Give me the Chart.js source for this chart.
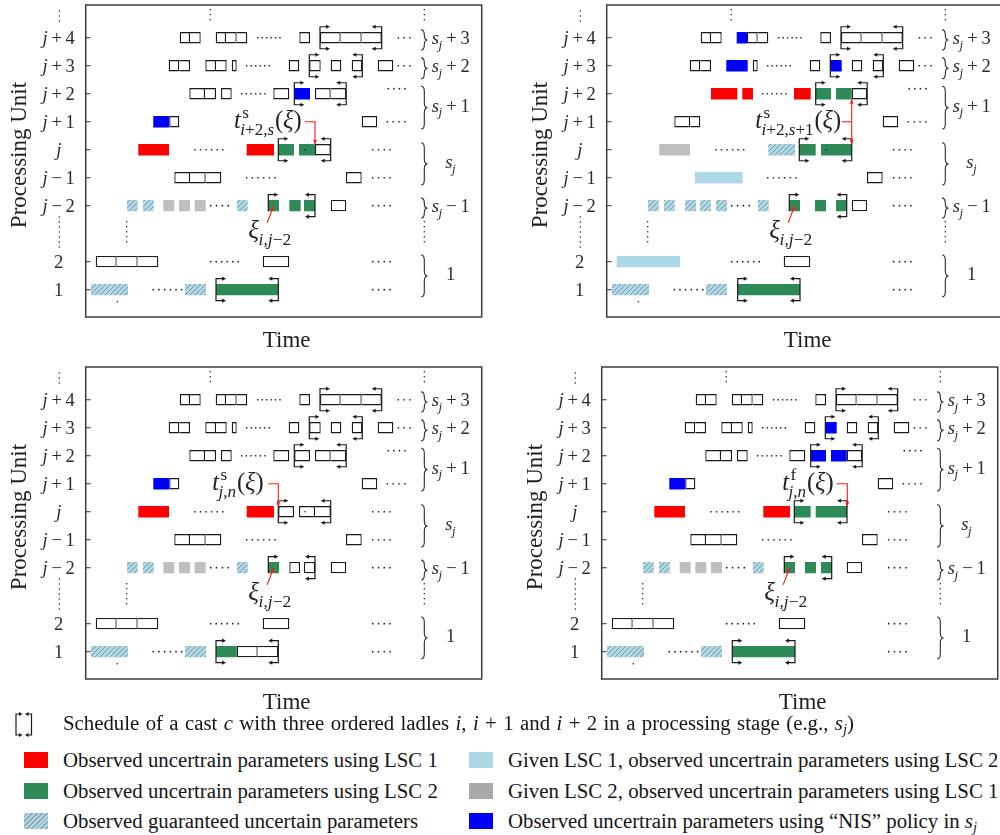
<!DOCTYPE html>
<html>
<head>
<meta charset="utf-8">
<script src="https://cdn.jsdelivr.net/npm/chart.js"></script>
<style>
  html, body { margin: 0; padding: 0; background: #fff; }
  body { width: 1000px; height: 835px; overflow: hidden; position: relative; }
  canvas { position: absolute; }
  .lg { position: absolute; font: 20.8px "Liberation Serif", "Times New Roman", serif; line-height: 24px; white-space: nowrap; color: #151515; }
  .lg i { font-style: italic; }
  .lg sub { font-size: 70%; vertical-align: -0.28em; line-height: 0; }
  .sw { position: absolute; width: 24px; height: 16px; }
</style>
</head>
<body>
<canvas id="pA" width="500" height="360" style="left:0;top:0"></canvas>
<canvas id="pB" width="520" height="360" style="left:500px;top:0"></canvas>
<canvas id="pC" width="500" height="360" style="left:0;top:362px"></canvas>
<canvas id="pD" width="500" height="360" style="left:500px;top:362px"></canvas>

<canvas id="castKey" width="30" height="34" style="left:8px;top:706px"></canvas>
<div class="lg" style="left:63px;top:711px;word-spacing:1.2px">Schedule of a cast <i>c</i> with three ordered ladles <i>i</i>, <i>i</i> + 1 and <i>i</i> + 2 in a processing stage (e.g., <i>s</i><sub><i>j</i></sub>)</div>

<div class="sw" style="left:24px;top:751.5px;background:#ff0000"></div>
<div class="lg" style="left:63px;top:747.5px">Observed uncertrain parameters using LSC 1</div>
<div class="sw" style="left:24px;top:782.5px;background:#2e8b57"></div>
<div class="lg" style="left:63px;top:778.5px">Observed uncertrain parameters using LSC 2</div>
<div class="sw" style="left:24px;top:813px;background:repeating-linear-gradient(135deg,#add8e6 0px,#add8e6 2.2px,#8fa3ad 2.2px,#8fa3ad 3.4px)"></div>
<div class="lg" style="left:63px;top:809px">Observed guaranteed uncertain parameters</div>

<div class="sw" style="left:469px;top:751.5px;background:#add8e6"></div>
<div class="lg" style="left:508px;top:747.5px">Given LSC 1, observed uncertrain parameters using LSC 2</div>
<div class="sw" style="left:469px;top:782.5px;background:#a9a9a9"></div>
<div class="lg" style="left:508px;top:778.5px">Given LSC 2, observed uncertrain parameters using LSC 1</div>
<div class="sw" style="left:469px;top:813px;background:#0000ff"></div>
<div class="lg" style="left:508px;top:809px">Observed uncertrain parameters using “NIS” policy in <i>s</i><sub><i>j</i></sub></div>

<script>
// ---- Processing units (row index 0 = unit 1 at the bottom; row 2 is the elided gap) ----
const unitLabels = ['1', '2', '', 'j−2', 'j−1', 'j', 'j+1', 'j+2', 'j+3', 'j+4'];

// ---- Stages grouping the units: [lowest row, highest row] covered by each brace ----
const stageSpans  = [[8.56, 9.28], [7.53, 8.28], [5.74, 7.27], [3.74, 5.25], [2.56, 3.27], [-0.26, 1.24]];
const stageLabels = ['s_j+3', 's_j+2', 's_j+1', 's_j', 's_j−1', '1'];

// ---- Ladle processing intervals common to all four schedules: [row, start, end] ----
const commonLadles = [
  [9, 94, 104.3], [9, 104.3, 115], [9, 140.3, 151], [9, 151, 161.6], [9, 213.6, 224.3], [9, 234.3, 255], [9, 255, 276], [9, 276, 296],
  [8, 83, 93.6], [8, 93.6, 104.3], [8, 146, 151], [8, 203, 213.6], [8, 245, 255.6], [8, 266, 276.6], [8, 292, 307.6],
  [7, 245, 260.5],
  [6, 83.6, 93.6], [6, 276, 291.5],
  [4, 260.3, 276],
  [3, 245, 260.5],
  [1, 177, 203.6]
];
const commonGuaranteed = [[3, 41.3, 52], [3, 57.3, 68], [3, 151.3, 162], [0, 5.3, 42.3], [0, 99.3, 120.3]];
const commonLsc2 = [[3, 182.6, 193.3]];

// ---- Elided parts of the schedule: horizontal dot runs [row, from, to, count] ----
const leaders = [
  [9, 172, 194.3, 6], [9, 312.6, 324.3, 3], [8, 161, 183.6, 6], [8, 312.6, 324.3, 3],
  [7, 156, 179.3, 6], [7.18, 302.6, 319.3, 4], [6, 301.6, 319.3, 4],
  [5, 109.3, 137, 6], [5, 287, 304.3, 4], [4, 161, 189.3, 6], [4, 287, 304.3, 4],
  [3, 125, 142.6, 4], [3, 287, 304.3, 4], [1, 125, 152.6, 6], [1, 287, 304.3, 4],
  [0, 67.6, 96, 6], [0, 287, 304.3, 4]
];
// vertical dot runs [time, top row, count]
const vEllipses = [[-26.4, 9.96, 3], [-26.4, 2.6, 7], [124.5, 10.0, 3], [41, 2.43, 5], [338.6, 10.0, 3], [338.6, 2.43, 5]];

// ---- Observed delay of ladle i at unit j-2 ----
const xiRow = 3;
const xiPointer = [[181.5, 2.39], [188, 3.0]];
const xiLabel = 'ξ_{i,j−2}';
const xiLabelAt = [184.5, 1.96];

// ---- Schedule (a): LSC 1 / LSC 2 ----
const ladlesA = [[9, 130, 140.3], [8, 119.6, 130.3], [8, 130.3, 141], [8, 223.6, 235],
  [7, 103.6, 119.3], [7, 119.3, 130.3], [7, 135.3, 146], [7, 187.6, 203.6], [7, 229.3, 245],
  [5, 229.3, 245], [4, 88.6, 104.3], [4, 104.3, 120], [4, 120, 135.6],
  [1, 10, 31], [1, 31, 52], [1, 52, 72.6]];
const lsc1A = [[5, 52.6, 83.3], [5, 161, 188.3]];
const lsc2A = [[5, 192.6, 208.3], [5, 213.3, 229.3], [3, 203.6, 215], [3, 218.3, 229.3], [0, 130.3, 192.6]];
const nisA = [[7, 208.6, 224.3], [6, 67.6, 83.6]];
const given1A = [];
const given2A = [[3, 77.6, 88.6], [3, 93.3, 104.3], [3, 109, 120]];
const guarA = [];
const castsA = [[9, 234.3, 296], [8, 223.6, 276.6], [7, 208.6, 260.5], [5, 192.6, 245], [3, 182.6, 229.3], [0, 130.3, 192.6]];
const specksA = [[5, 219.3], [-0.43, 31.6]];
const tLabelA = 't^{\\r{s}}_{i+2,s}(ξ)';
const tLabelEndA = 216;
const arrowsA = [{ pts: [[219.3, 6], [229.3, 6], [229.3, 5.2]], heads: 1 }];

// ---- Schedule (b) ----
const ladlesB = [[6, 67.6, 83.6]];
const lsc1B = [[7, 104.3, 130.6], [7, 135.6, 146.3], [7, 187.3, 204]];
const lsc2B = [[7, 209, 224.3], [7, 229.3, 245], [5, 192.6, 209], [5, 214.3, 245], [3, 208.3, 219.3], [3, 229.3, 240], [0, 131, 193.3]];
const nisB = [[9, 130, 140.3], [8, 119.6, 141], [8, 223.6, 235]];
const given1B = [[4, 88.3, 136], [1, 10, 73.3]];
const given2B = [[5, 52.6, 83.3]];
const guarB = [[5, 161.6, 188.3], [3, 78.3, 89.3], [3, 93.3, 104.3], [3, 109.3, 120.3]];
const castsB = [[9, 234.3, 296], [8, 223.6, 276.6], [7, 209, 260.5], [5, 192.6, 245], [3, 182.6, 240], [0, 131, 193.3]];
const specksB = [[5, 219.3], [-0.43, 31.6]];
const tLabelB = 't^{\\r{s}}_{i+2,s+1}(ξ)';
const tLabelEndB = 234.5;
const arrowsB = [{ pts: [[235, 6], [245, 6]], heads: 0 }, { pts: [[245, 6.8], [245, 5.2]], heads: 2 }];

// ---- Schedule (c) ----
const ladlesC = [[9, 130, 140.3], [8, 119.6, 130.3], [8, 130.3, 141], [8, 223.6, 235],
  [7, 103.6, 119.3], [7, 119.3, 130.3], [7, 135.3, 146], [7, 187.6, 203.6], [7, 208.6, 224.3], [7, 229.3, 245],
  [5, 192.6, 208.3], [5, 213.3, 229.3], [5, 229.3, 245],
  [4, 88.6, 104.3], [4, 104.3, 120], [4, 120, 135.6],
  [3, 203.6, 214.3], [3, 218.3, 229.3],
  [1, 10, 31], [1, 31, 52], [1, 52, 72.6], [0, 151, 172], [0, 172, 192.6]];
const lsc1C = [[5, 52.6, 83.3], [5, 161, 188.3]];
const lsc2C = [[0, 130.3, 151]];
const nisC = [[6, 67.6, 83.6]];
const given1C = [];
const given2C = [[3, 77.6, 88.6], [3, 93.3, 104.3], [3, 109, 120]];
const guarC = [];
const castsC = [[9, 234.3, 296], [8, 223.6, 276.6], [7, 208.6, 260.5], [5, 192.6, 245], [3, 182.6, 229.3], [0, 130.3, 192.6]];
const specksC = [[5, 219.3], [-0.43, 31.6]];
const tLabelC = 't^{\\r{s}}_{j,n}(ξ)';
const tLabelEndC = 178;
const arrowsC = [{ pts: [[182.6, 6], [192.6, 6], [192.6, 5.2]], heads: 1 }];

// ---- Schedule (d) ----
const ladlesD = [[9, 130, 140.3], [8, 119.6, 130.3], [8, 130.3, 141],
  [7, 103.6, 119.3], [7, 119.3, 130.3], [7, 135.3, 146], [7, 187.6, 203.6],
  [4, 88.6, 104.3], [4, 104.3, 120], [4, 120, 135.6],
  [1, 10, 31], [1, 31, 52], [1, 52, 72.6]];
const lsc1D = [[5, 52.6, 83.3], [5, 161.6, 188.3]];
const lsc2D = [[5, 192.6, 209], [5, 214, 245.3], [3, 203.3, 214.3], [3, 219.3, 230], [0, 130.6, 193.3]];
const nisD = [[8, 223.6, 235], [7, 209, 224.3], [7, 229.3, 245], [6, 67.6, 83.6]];
const given1D = [];
const given2D = [[3, 78, 89], [3, 93.6, 104.6], [3, 109.3, 120.3]];
const guarD = [];
const castsD = [[9, 234.3, 296], [8, 223.6, 276.6], [7, 209, 260.5], [5, 192.6, 245.3], [3, 182.6, 230], [0, 130.6, 193.3]];
const specksD = [[-0.43, 31.6]];
const tLabelD = 't^{\\r{f}}_{j,n}(ξ)';
const tLabelEndD = 232;
const arrowsD = [{ pts: [[235, 6], [245.6, 6], [245.6, 5.2]], heads: 1 }];

// ---------------------------------------------------------------------------
const SERIF = '"Liberation Serif", "Times New Roman", serif';
const INK = '#1a1a1a';
const RED = '#ff0000', GREEN = '#2e8b57', BLUE = '#0000ff', LIGHT = '#add8e6', GREY = '#bfbfbf', POINTER = '#ff1a1a';
const BAR_H = 11.3;

function fnt(it, sz) { return (it ? 'italic ' : '') + sz + 'px ' + SERIF; }

// Minimal math typesetter: letters italic, digits/operators upright, ^{} and _{} scripts, \r{} upright group
function layoutMath(ctx, src, size) {
  const items = []; let i = 0;
  const push = (t, it, sz, x, dy) => { ctx.font = fnt(it, sz); const w = ctx.measureText(t).width; items.push({ t, it, sz, x, dy }); return x + w; };
  function one(sz, dy, x, roman) {
    const c = src[i++];
    if (c === '{') { x = seq(sz, dy, x, roman); i++; return x; }
    if (c === '\\') { i++; return one(sz, dy, x, true); }
    if (c === ' ') return x;
    const letter = /[A-Za-zξ]/.test(c);
    if ((c === '+' || c === '−') && sz === size) {
      x += 0.2 * sz; x = push(c, false, sz, x, dy); return x + 0.2 * sz;
    }
    return push(c, letter && !roman, sz, x, dy);
  }
  function seq(sz, dy, x, roman) {
    while (i < src.length && src[i] !== '}') {
      if (src[i] === '^' || src[i] === '_') {
        const x0 = x; let xm = x;
        while (src[i] === '^' || src[i] === '_') {
          const up = src[i++] === '^';
          xm = Math.max(xm, one(sz * 0.7, dy + (up ? -0.42 : 0.26) * sz, x0 + (up ? 0.06 * sz : -0.02 * sz), roman));
        }
        x = xm + 0.03 * sz;
      } else x = one(sz, dy, x, roman);
    }
    return x;
  }
  const w = seq(size, 0, 0, false);
  return { items, w };
}
function drawMath(ctx, src, x, y, size, align, color) {
  const { items, w } = layoutMath(ctx, src, size);
  const x0 = align === 'center' ? x - w / 2 : align === 'right' ? x - w : x;
  ctx.fillStyle = color || INK;
  ctx.textAlign = 'left'; ctx.textBaseline = 'alphabetic';
  items.forEach(it => { ctx.font = fnt(it.it, it.sz); ctx.fillText(it.t, x0 + it.x, y + it.dy); });
}

function arrowHead(ctx, x, y, dx, dy, len, half) {
  const L = Math.hypot(dx, dy), ux = dx / L, uy = dy / L;
  ctx.beginPath();
  ctx.moveTo(x, y);
  ctx.lineTo(x - ux * len - uy * half, y - uy * len + ux * half);
  ctx.lineTo(x - ux * len + uy * half, y - uy * len - ux * half);
  ctx.closePath(); ctx.fill();
}

// Cast bracket: ladle sequence start/end markers with arrows
function castBracket(ctx, x0, x1, yc, h, arm, lowerLeft) {
  ctx.strokeStyle = INK; ctx.fillStyle = INK; ctx.lineWidth = 1.2;
  ctx.beginPath();
  ctx.moveTo(x0 + arm - 3, yc - h); ctx.lineTo(x0, yc - h);
  ctx.lineTo(x0, lowerLeft ? yc + h : yc + BAR_H / 2);
  if (lowerLeft) ctx.lineTo(x0 + arm - 3, yc + h);
  ctx.moveTo(x1 - arm + 3, yc - h); ctx.lineTo(x1, yc - h); ctx.lineTo(x1, yc + h); ctx.lineTo(x1 - arm + 3, yc + h);
  ctx.stroke();
  arrowHead(ctx, x0 + arm, yc - h, 1, 0, 4, 2.1);
  if (lowerLeft) arrowHead(ctx, x0 + arm, yc + h, 1, 0, 4, 2.1);
  arrowHead(ctx, x1 - arm, yc - h, -1, 0, 4, 2.1);
  arrowHead(ctx, x1 - arm, yc + h, -1, 0, 4, 2.1);
}

function curlyBrace(ctx, x, y1, y2, w) {
  const ym = (y1 + y2) / 2, r = Math.min(w * 0.8, (y2 - y1) / 4);
  ctx.beginPath();
  ctx.moveTo(x, y1);
  ctx.quadraticCurveTo(x + w / 2, y1, x + w / 2, y1 + r);
  ctx.lineTo(x + w / 2, ym - r);
  ctx.quadraticCurveTo(x + w / 2, ym, x + w, ym);
  ctx.quadraticCurveTo(x + w / 2, ym, x + w / 2, ym + r);
  ctx.lineTo(x + w / 2, y2 - r);
  ctx.quadraticCurveTo(x + w / 2, y2, x, y2);
  ctx.stroke();
}

function dot(ctx, x, y, r) { ctx.beginPath(); ctx.arc(x, y, r, 0, Math.PI * 2); ctx.fill(); }

function hatchPattern() {
  const c = document.createElement('canvas'); c.width = c.height = 5;
  const g = c.getContext('2d');
  g.fillStyle = LIGHT; g.fillRect(0, 0, 5, 5);
  g.strokeStyle = 'rgba(110,128,138,0.75)'; g.lineWidth = 1;
  g.beginPath(); g.moveTo(0, 5); g.lineTo(5, 0); g.moveTo(-1, 1); g.lineTo(1, -1); g.moveTo(4, 6); g.lineTo(6, 4); g.stroke();
  return g.createPattern(c, 'repeat');
}
const HATCH = hatchPattern();

function scheduleDecor(p) {
  return {
    id: 'scheduleDecor',
    afterDatasetsDraw(chart) {
      const { ctx, chartArea: a } = chart;
      const xs = chart.scales.x, ys = chart.scales.y;
      const X = v => xs.getPixelForValue(v), Y = r => ys.getPixelForValue(r);
      ctx.save();

      // elided schedule parts
      ctx.fillStyle = INK;
      leaders.forEach(([r, t0, t1, n]) => {
        for (let k = 0; k < n; k++) dot(ctx, X(t0 + (t1 - t0) * k / (n - 1)), Y(r), 0.85);
      });
      vEllipses.forEach(([t, r, n]) => {
        for (let k = 0; k < n; k++) dot(ctx, X(t), Y(r) + 5 * k, 0.75);
      });
      p.specks.forEach(([r, t]) => dot(ctx, X(t), Y(r), 0.8));

      // casts
      p.casts.forEach(([r, s, e]) => castBracket(ctx, X(s), X(e), Y(r), 11, 10, r !== xiRow));

      // stage braces
      ctx.strokeStyle = '#2a2a2a'; ctx.lineWidth = 1.1;
      stageSpans.forEach(([lo, hi], k) => {
        curlyBrace(ctx, X(335.4), Y(hi), Y(lo), 6.4);
        drawMath(ctx, stageLabels[k], X(365), (Y(lo) + Y(hi)) / 2 + 4, 18.5, 'center', '#2a2a2a');
      });

      // frame and inward unit ticks
      ctx.strokeStyle = '#3c3c3c'; ctx.lineWidth = 1.5;
      ctx.strokeRect(a.left, a.top, a.right - a.left, a.bottom - a.top);
      ctx.lineWidth = 1; ctx.strokeStyle = '#333';
      unitLabels.forEach((lab, r) => {
        if (!lab) return;
        ctx.beginPath(); ctx.moveTo(a.left, Y(r)); ctx.lineTo(a.left + 5, Y(r)); ctx.stroke();
        drawMath(ctx, lab, a.left - 27, Y(r) + 6, 18.5, 'center', '#2a2a2a');
      });

      // pointers
      ctx.strokeStyle = POINTER; ctx.fillStyle = POINTER; ctx.lineWidth = 1.1;
      p.arrows.forEach(({ pts, heads }) => {
        const q = pts.map(([t, r]) => [X(t), Y(r)]);
        ctx.beginPath(); ctx.moveTo(q[0][0], q[0][1]);
        q.slice(1).forEach(([x, y]) => ctx.lineTo(x, y));
        ctx.stroke();
        const n = q.length;
        if (heads >= 1) arrowHead(ctx, q[n - 1][0], q[n - 1][1], q[n - 1][0] - q[n - 2][0], q[n - 1][1] - q[n - 2][1], 4.5, 2);
        if (heads === 2) arrowHead(ctx, q[0][0], q[0][1], q[0][0] - q[1][0], q[0][1] - q[1][1], 4.5, 2);
      });
      const xp = xiPointer.map(([t, r]) => [X(t), Y(r)]);
      ctx.beginPath(); ctx.moveTo(xp[0][0], xp[0][1]); ctx.lineTo(xp[1][0], xp[1][1]); ctx.stroke();
      arrowHead(ctx, xp[1][0], xp[1][1], xp[1][0] - xp[0][0], xp[1][1] - xp[0][1], 4.5, 1.9);

      drawMath(ctx, p.tLabel, X(p.tLabelEnd), Y(6) + 6.5, 24.5, 'right', '#222');
      drawMath(ctx, xiLabel, X(xiLabelAt[0]), Y(xiLabelAt[1]) + 3.5, 25, 'center', '#222');

      // axis titles
      ctx.fillStyle = '#1e1e1e';
      ctx.font = '23px ' + SERIF; ctx.textAlign = 'center'; ctx.textBaseline = 'alphabetic';
      ctx.fillText('Time', (a.left + a.right) / 2 + 3, a.bottom + 29.5);
      ctx.save();
      ctx.translate(a.left - 66, a.top + 150);
      ctx.rotate(-Math.PI / 2);
      ctx.textBaseline = 'middle';
      ctx.fillText('Processing Unit', 0, 0);
      ctx.restore();

      ctx.restore();
    }
  };
}

const toBars = arr => arr.map(([r, s, e]) => ({ y: r, x: [s, e] }));

function buildSchedule(id, pad, p) {
  const ladles = commonLadles.concat(p.ladles);
  const joinsLeft = raw => ladles.some(([r, s, e]) => r === raw.y && Math.abs(e - raw.x[0]) < 0.8);
  const datasets = [
    { label: 'Ladle', data: toBars(ladles), backgroundColor: '#ffffff', borderColor: INK, borderWidth: 1.3,
      borderSkipped: c => (c.raw && joinsLeft(c.raw)) ? 'left' : false },
    { label: 'LSC 1', data: toBars(p.lsc1), backgroundColor: RED },
    { label: 'LSC 2', data: toBars(commonLsc2.concat(p.lsc2)), backgroundColor: GREEN },
    { label: 'Guaranteed', data: toBars(commonGuaranteed.concat(p.guar)), backgroundColor: HATCH },
    { label: 'Given LSC 1', data: toBars(p.given1), backgroundColor: LIGHT },
    { label: 'Given LSC 2', data: toBars(p.given2), backgroundColor: GREY },
    { label: 'NIS', data: toBars(p.nis), backgroundColor: BLUE }
  ];
  return new Chart(document.getElementById(id), {
    type: 'bar',
    data: { datasets },
    options: {
      indexAxis: 'y',
      responsive: false,
      animation: false,
      devicePixelRatio: 1,
      events: [],
      layout: { padding: pad },
      datasets: { bar: { grouped: false, barThickness: BAR_H, inflateAmount: 0, borderWidth: 0 } },
      scales: {
        x: { type: 'linear', min: 0, max: 396, offset: false, display: false },
        y: { type: 'linear', min: -0.975, max: 10.17, offset: false, display: false }
      },
      plugins: { legend: { display: false }, tooltip: { enabled: false } }
    },
    plugins: [scheduleDecor(p)]
  });
}

buildSchedule('pA', { left: 85.7, top: 5, right: 18.3, bottom: 43 },
  { ladles: ladlesA, lsc1: lsc1A, lsc2: lsc2A, nis: nisA, given1: given1A, given2: given2A, guar: guarA,
    casts: castsA, specks: specksA, tLabel: tLabelA, tLabelEnd: tLabelEndA, arrows: arrowsA });
buildSchedule('pB', { left: 106.7, top: 5, right: 17.3, bottom: 43 },
  { ladles: ladlesB, lsc1: lsc1B, lsc2: lsc2B, nis: nisB, given1: given1B, given2: given2B, guar: guarB,
    casts: castsB, specks: specksB, tLabel: tLabelB, tLabelEnd: tLabelEndB, arrows: arrowsB });
buildSchedule('pC', { left: 85.7, top: 5, right: 18.3, bottom: 43 },
  { ladles: ladlesC, lsc1: lsc1C, lsc2: lsc2C, nis: nisC, given1: given1C, given2: given2C, guar: guarC,
    casts: castsC, specks: specksC, tLabel: tLabelC, tLabelEnd: tLabelEndC, arrows: arrowsC });
buildSchedule('pD', { left: 101.7, top: 5, right: 2.3, bottom: 43 },
  { ladles: ladlesD, lsc1: lsc1D, lsc2: lsc2D, nis: nisD, given1: given1D, given2: given2D, guar: guarD,
    casts: castsD, specks: specksD, tLabel: tLabelD, tLabelEnd: tLabelEndD, arrows: arrowsD });

// legend key for a cast bracket
(function () {
  const ctx = document.getElementById('castKey').getContext('2d');
  ctx.strokeStyle = INK; ctx.fillStyle = INK; ctx.lineWidth = 1.2;
  const xl = 8, xr = 23.5, yt = 8, yb = 29, arm = 6.5;
  ctx.beginPath();
  ctx.moveTo(xl + arm - 3, yt); ctx.lineTo(xl, yt); ctx.lineTo(xl, yb); ctx.lineTo(xl + arm - 3, yb);
  ctx.moveTo(xr - arm + 3, yt); ctx.lineTo(xr, yt); ctx.lineTo(xr, yb); ctx.lineTo(xr - arm + 3, yb);
  ctx.stroke();
  arrowHead(ctx, xl + arm, yt, 1, 0, 3.5, 2); arrowHead(ctx, xl + arm, yb, 1, 0, 3.5, 2);
  arrowHead(ctx, xr - arm, yt, -1, 0, 3.5, 2); arrowHead(ctx, xr - arm, yb, -1, 0, 3.5, 2);
})();
</script>
</body>
</html>
